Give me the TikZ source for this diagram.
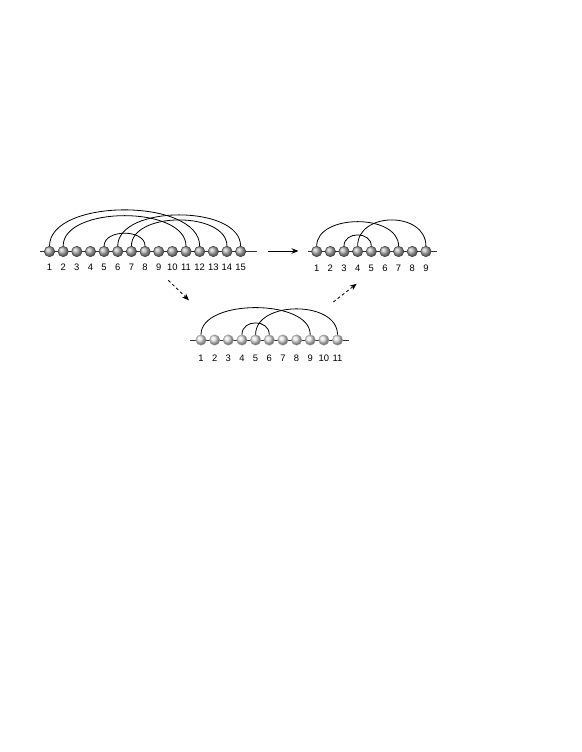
\documentclass[tikz,border=0pt]{standalone}
\usepackage{fontspec}
\setmainfont{Liberation Sans}
\usetikzlibrary{arrows.meta}
\begin{document}
\begin{tikzpicture}[x=1pt,y=1pt,
  bead/.style={circle,minimum size=10.5pt,inner sep=0pt,draw=gray!40!black,line width=0.4pt,shading=ball,ball color=gray!62},
  beadlight/.style={bead,ball color=gray!22,draw=gray!70},
  lab/.style={font=\fontsize{9.4}{11}\selectfont,inner sep=0pt,text height=6.8pt,text depth=0pt},
  chord/.style={line width=0.8pt},
  backbone/.style={line width=0.6pt,draw=gray!40!black},
  flow/.style={line width=0.8pt,-{Stealth[length=7pt,width=5.5pt]}},
  dflow/.style={flow,dash pattern=on 3pt off 2.5pt}]
\useasboundingbox (0,0) rectangle (581,-752);

% ---------- top-left molecule (15 beads)
\coordinate (aL) at (40,-251.5);
\coordinate (aR) at (257,-251.5);
\draw[backbone] (aL) -- (aR);
\foreach \i in {1,...,15}{
  \node[bead] (a\i) at ({49.5+(\i-1)*13.65},-251.5) {};
  \node[lab] (al\i) at ({49.5+(\i-1)*13.65},-267.5) {\i};
}
\draw[chord] (a1) .. controls +(0,53.7) and +(0,53.7) .. (a12);
\draw[chord] (a2) .. controls +(0,46) and +(0,46) .. (a11);
\draw[chord] (a5) .. controls +(0,22.6) and +(0,22.6) .. (a8);
\draw[chord] (a6) .. controls +(0,47) and +(0,47) .. (a15);
\draw[chord] (a7) .. controls +(0,40.3) and +(0,40.3) .. (a14);

% ---------- top-right molecule (9 beads)
\coordinate (bL) at (308,-251.5);
\coordinate (bR) at (437,-251.5);
\draw[backbone] (bL) -- (bR);
\foreach \i in {1,...,9}{
  \node[bead] (b\i) at ({316.7+(\i-1)*13.65},-251.5) {};
  \node[lab] (bl\i) at ({316.7+(\i-1)*13.65},-268.5) {\i};
}
\draw[chord] (b1) .. controls +(0,38) and +(0,38) .. (b7);
\draw[chord] (b3) .. controls +(0,20.3) and +(0,20.3) .. (b5);
\draw[chord] (b4) .. controls +(0,40.3) and +(0,40.3) .. (b9);

% ---------- bottom molecule (11 beads)
\coordinate (cL) at (190,-340);
\coordinate (cR) at (349,-340);
\draw[backbone] (cL) -- (cR);
\foreach \i in {1,...,11}{
  \node[beadlight] (c\i) at ({201+(\i-1)*13.65},-340) {};
  \node[lab] (cl\i) at ({201+(\i-1)*13.65},-358) {\i};
}
\draw[chord] (c1) .. controls +(0,41.4) and +(0,41.4) .. (c9);
\draw[chord] (c4) .. controls +(0,21) and +(0,21) .. (c6);
\draw[chord] (c5) .. controls +(0,39.7) and +(0,39.7) .. (c11);

% ---------- arrows
\coordinate (s1) at (268,-251);
\coordinate (e1) at (298.5,-251);
\draw[flow] (s1) -- (e1);
\coordinate (s2) at (168.3,-280.3);
\coordinate (e2) at (189,-300.3);
\draw[dflow] (s2) -- (e2);
\coordinate (s3) at (333.3,-302);
\coordinate (e3) at (356.7,-283.7);
\draw[dflow] (s3) -- (e3);
\end{tikzpicture}
\end{document}
